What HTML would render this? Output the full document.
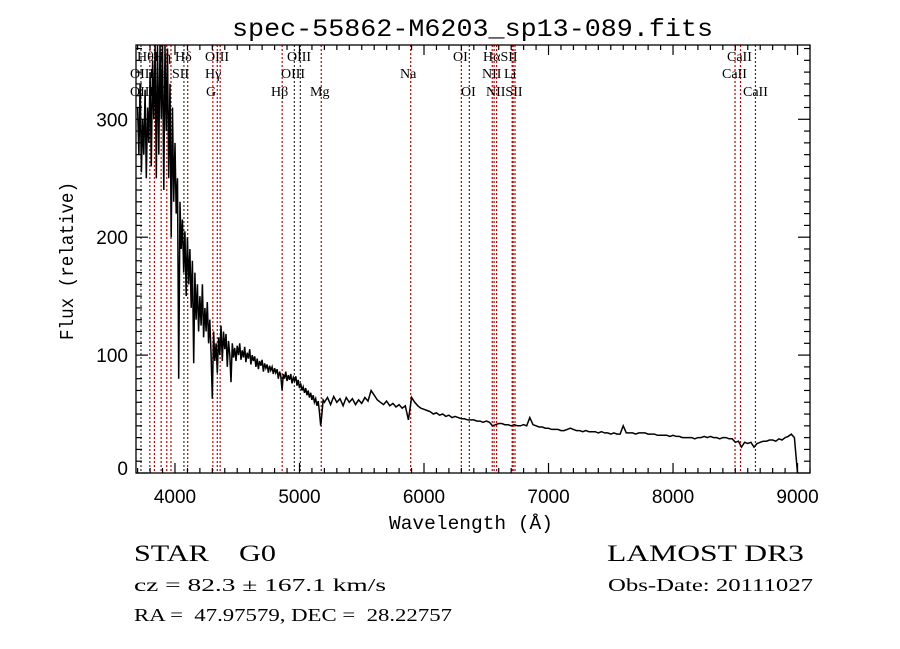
<!DOCTYPE html>
<html><head><meta charset="utf-8"><style>
html,body{margin:0;padding:0;background:#fff;}
svg{display:block;}
text{fill:#000;white-space:pre;}
</style></head><body>
<svg id="chart" width="900" height="649" viewBox="0 0 900 649" xmlns="http://www.w3.org/2000/svg" xml:space="preserve">
<rect width="900" height="649" fill="#fff"/>
<text x="232" y="36" font-family="Liberation Mono, monospace" font-size="25" textLength="481" lengthAdjust="spacingAndGlyphs">spec-55862-M6203_sp13-089.fits</text>
<g id="lines"></g>
<g id="spec"></g>
<g id="axes"></g>
<g id="labels" font-family="Liberation Serif, serif" font-size="14"></g>
<text x="389" y="529" font-family="Liberation Mono, monospace" font-size="19" textLength="164" lengthAdjust="spacingAndGlyphs">Wavelength (Å)</text>
<text transform="translate(73,340) rotate(-90)" font-family="Liberation Mono, monospace" font-size="19" textLength="158" lengthAdjust="spacingAndGlyphs">Flux (relative)</text>
<text x="134" y="561" font-family="Liberation Serif, serif" font-size="23" textLength="142" lengthAdjust="spacingAndGlyphs">STAR    G0</text>
<text x="134" y="591" font-family="Liberation Serif, serif" font-size="18" textLength="252" lengthAdjust="spacingAndGlyphs">cz = 82.3 ± 167.1 km/s</text>
<text x="134" y="621" font-family="Liberation Serif, serif" font-size="18" textLength="318" lengthAdjust="spacingAndGlyphs">RA =  47.97579, DEC =  28.22757</text>
<text x="607" y="561" font-family="Liberation Serif, serif" font-size="23" textLength="197" lengthAdjust="spacingAndGlyphs">LAMOST DR3</text>
<text x="608" y="591" font-family="Liberation Serif, serif" font-size="18" textLength="205" lengthAdjust="spacingAndGlyphs">Obs-Date: 20111027</text>
</svg>
<script>
// data
const blueStart = 3700, blueStep = 10;
const blueFlux = [310,270,330,255,300,270,325,250,310,280,340,260,350,300,363,250,363,270,363,300,363,240,363,290,360,250,330,200,310,230,
280,220,250,80,230,190,215,170,205,150,200,160,190,140,180,93,170,130,160,120,150,125,160,115,140,120,145,110,130,100,
63,120,95,110,85,115,100,125,95,120,105,118,90,112,100,77,110,98,106,95,108,100,110,96,104,98,107,94,102,97,
105,92,100,95,99,90,97,88,95,91,96,86,93,89,92,85,91,87,90,84,89,85,88,80,86,82,70,84,80,86,
78,83,79,84,76,81,78,82,74,79,72,76,70,73,68,72,66,70,64,68,62,66,60,63,57,61,52,40,50,62];
const redStart = 5200, redStep = 25;
const redFlux = [60,64,58,65,60,63,57,64,60,63,58,62,59,64,61,70,66,62,60,58,61,57,59,56,58,55,57,45,64,60,57,55,
54,53,52,50,51,49,50,48,49,47,48,47,46,46,45,45,45,44,44,43,44,43,40,41,42,42,41,41,40,41,40,40,41,40,47,41,40,39,39,38,
38,37,37,37,36,36,37,38,37,36,36,35,36,35,35,35,34,35,34,34,33,34,33,33,40,34,34,34,33,34,34,34,33,33,33,32,32,32,32,31,
32,31,31,30,30,30,30,29,30,30,31,30,31,30,30,29,30,30,29,29,26,27,22,26,25,26,22,25,26,27,27,28,28,27,29,28,30,31,33,30,0];
const lineWaves = [3727,3798,3835,3889,3934,3968,4072,4102,4304,4340,4363,4861,4959,5007,5175,5893,6300,6364,6548,6563,6583,6708,6716,6731,8498,8542,8662];
const lineRed   = [0,1,1,1,1,1,0,1,1,1,1,1,0,0,1,1,1,0,1,1,1,1,1,1,1,1,0];
const xTicks = [4000,5000,6000,7000,8000,9000];
const yTicks = [0,100,200,300];
const lineLabels = [
 ["HθHη",137,61],["Hδ",175,61],["OIII",205,61],["OIII",287,61],["OI",453,61],["HαSII",483,61],["CaII",727,61],
 ["OIIHε",130,78],["SII",172,78],["Hγ",205,78],["OIII",281,78],["Na",400,78],["NII",482,78],["Li",504,78],["CaII",722,78],
 ["OIIHζ",130,96],["G",206,96],["Hβ",271,96],["Mg",310,96],["OI",461,96],["NIISII",486,96],["CaII",743,96]
];
// axis
const L=136,R=810,T=45,B=473, X0=3687, X1=9100, YMAX=363;
const xs = w => L + (w - X0) * (R - L) / (X1 - X0);
const ys = f => B - f * (B - T) / YMAX;
const NS="http://www.w3.org/2000/svg";
function mk(tag, attrs, parent){const e=document.createElementNS(NS,tag);for(const k in attrs)e.setAttribute(k,attrs[k]);parent.appendChild(e);return e;}
const gL=document.getElementById('lines'), gS=document.getElementById('spec'), gA=document.getElementById('axes'), gT=document.getElementById('labels');
lineWaves.forEach((w,i)=>{
  const ln=mk('line',{x1:xs(w),x2:xs(w),y1:T,y2:B,stroke:lineRed[i]?'#c00000':'#333','stroke-width':1.2,'stroke-dasharray':'2,2'},gL);
  
  
});
let pts=[];
blueFlux.forEach((f,i)=>pts.push(xs(blueStart+i*blueStep).toFixed(1)+','+ys(Math.min(f,YMAX)).toFixed(1)));
redFlux.forEach((f,i)=>pts.push(xs(redStart+i*redStep).toFixed(1)+','+ys(f).toFixed(1)));
const pl=mk('polyline',{points:pts.join(' '),fill:'none',stroke:'#000','stroke-width':1.5,'stroke-linejoin':'miter'},gS);


const fr=mk('rect',{x:L,y:T,width:R-L,height:B-T,fill:'none',stroke:'#000','stroke-width':1.3},gA);


for(let w=3700;w<=9100;w+=100){
  const maj=w%1000===0, len=maj?10:5, x=xs(w);
  mk('line',{x1:x,x2:x,y1:B,y2:B-len,stroke:'#000','stroke-width':1.2},gA);
  mk('line',{x1:x,x2:x,y1:T,y2:T+len,stroke:'#000','stroke-width':1.2},gA);
}
for(let f=0;f<=YMAX;f+=10){
  const maj=f%100===0, len=maj?12:6, y=ys(f);
  mk('line',{x1:L,x2:L+len,y1:y,y2:y,stroke:'#000','stroke-width':1.2},gA);
  mk('line',{x1:R,x2:R-len,y1:y,y2:y,stroke:'#000','stroke-width':1.2},gA);
}
xTicks.forEach(v=>{
  const t=mk('text',{x:xs(v),y:B+30,'text-anchor':'middle','font-family':'Liberation Sans, sans-serif','font-size':19},gA);
  t.textContent=v;
  
  
});
yTicks.forEach(v=>{
  const t=mk('text',{x:L-8,y:ys(v)+(v===0?2:7),'text-anchor':'end','font-family':'Liberation Sans, sans-serif','font-size':19},gA);
  t.textContent=v;
  
  
});
lineLabels.forEach(a=>{
  const t=mk('text',{x:a[1],y:a[2]},gT);
  t.textContent=a[0];
  
  
});
</script>
</body></html>
